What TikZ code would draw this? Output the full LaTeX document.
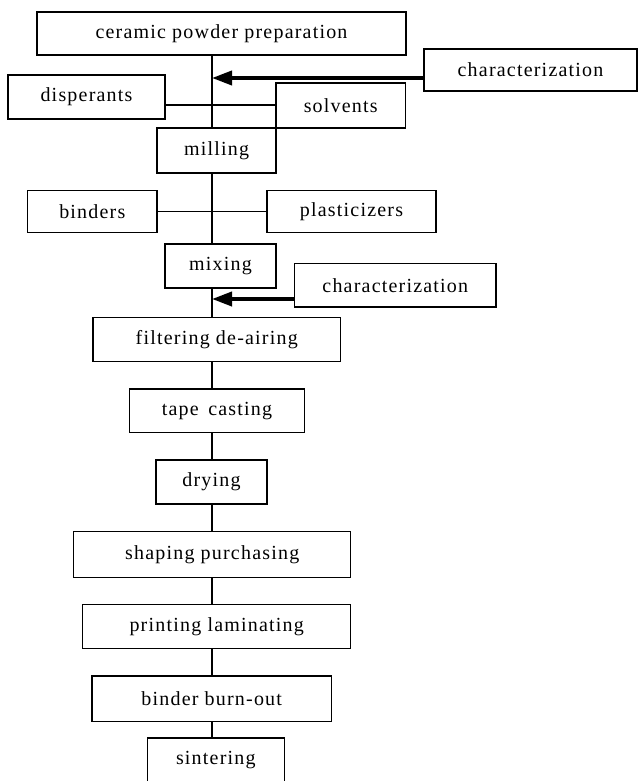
\documentclass[tikz,border=0pt]{standalone}
\usepackage{fontspec}
\newfontfamily\boxfont[LetterSpace=6]{Liberation Serif}
\usetikzlibrary{arrows.meta}
\begin{document}
\begin{tikzpicture}[x=1pt,y=-1pt,
  box/.style={draw=black, line width=1.3pt, fill=white, inner sep=0pt,
    font=\boxfont\fontsize{20}{23}\selectfont, text=black, anchor=center},
  link/.style={draw=black, line width=1.3pt},
  feed/.style={draw=black, line width=3.8pt, -{Triangle[length=20pt,width=14pt]}}]
\useasboundingbox (0,0) rectangle (639,781);
\clip (0,0) rectangle (639,781);
\fill[white] (0,0) rectangle (639,781);
% spine coordinates
\coordinate (a1) at (212,78);
\coordinate (l1) at (212,105);
\coordinate (a2) at (212,299);
% nodes
\node[box, minimum width=369pt, minimum height=43pt] (ceramic) at (221.5,33.5) {ceramic powder preparation};
\node[box, minimum width=213pt, minimum height=42pt] (char1) at (530.5,70) {characterization};
\node[box, minimum width=157pt, minimum height=44pt] (disp) at (86.5,97) {disperants};
\node[box, minimum width=129.5pt, minimum height=45pt] (solv) at (340.75,105.5) {solvents};
\node[box, minimum width=119pt, minimum height=45pt] (milling) at (216.5,150.5) {milling};
\node[box, minimum width=129.3pt, minimum height=42pt] (binders) at (92.3,211.7) {binders};
\node[box, minimum width=169pt, minimum height=42pt] (plast) at (351.5,211.7) {plasticizers};
\node[box, minimum width=111pt, minimum height=44pt] (mixing) at (220.5,266) {mixing};
\node[box, minimum width=201.4pt, minimum height=43.3pt] (char2) at (395.3,285.3) {characterization};
\node[box, minimum width=247.5pt, minimum height=44pt] (filter) at (216.75,339.7) {filtering de-airing};
\node[box, minimum width=175.4pt, minimum height=43.7pt] (tape) at (217,410.8) {tape\, casting};
\node[box, minimum width=111pt, minimum height=44pt] (drying) at (211.5,482) {drying};
\node[box, minimum width=277pt, minimum height=45.6pt] (shaping) at (212.2,554.5) {shaping purchasing};
\node[box, minimum width=268pt, minimum height=44pt] (printing) at (216.7,626.3) {printing laminating};
\node[box, minimum width=239.3pt, minimum height=45.3pt] (burnout) at (211.7,698.7) {binder burn-out};
\node[box, minimum width=137pt, minimum height=45pt] (sinter) at (215.8,760.5) {sintering};
% spine
\draw[link] (ceramic.south -| a1) -- (milling.north -| a1);
\draw[link] (milling.south -| a1) -- (mixing.north -| a1);
\draw[link] (mixing.south -| a1) -- (filter.north -| a1);
\draw[link] (filter.south -| a1) -- (tape.north -| a1);
\draw[link] (tape.south -| a1) -- (drying.north -| a1);
\draw[link] (drying.south -| a1) -- (shaping.north -| a1);
\draw[link] (shaping.south -| a1) -- (printing.north -| a1);
\draw[link] (printing.south -| a1) -- (burnout.north -| a1);
\draw[link] (burnout.south -| a1) -- (sinter.north -| a1);
% side inputs
\draw[link] (disp.east |- l1) -- (solv.west |- l1);
\draw[link] (binders.east) -- (plast.west);
% characterization feeds
\draw[feed] (char1.west |- a1) -- (a1);
\draw[feed] (char2.west |- a2) -- (a2);
\end{tikzpicture}
\end{document}
